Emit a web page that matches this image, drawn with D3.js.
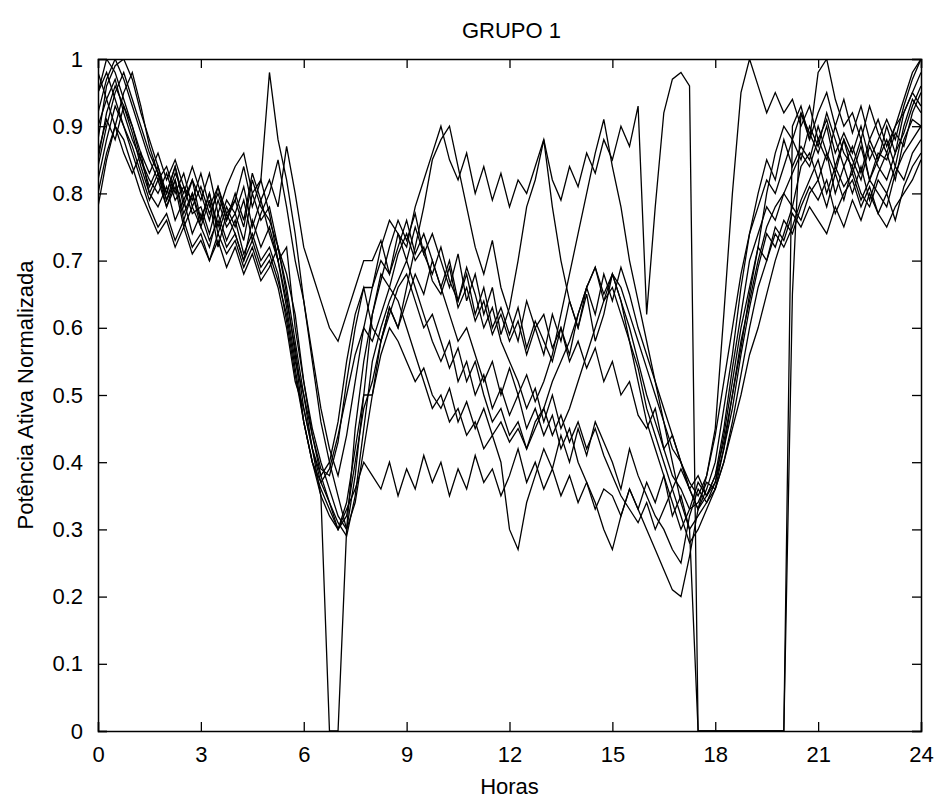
<!DOCTYPE html>
<html>
<head>
<meta charset="utf-8">
<script src="https://cdn.jsdelivr.net/npm/d3@7"></script>
<style>
  html, body { margin: 0; padding: 0; background: #ffffff; }
  svg { display: block; }
  text { font-family: "Liberation Sans", Arial, sans-serif; fill: #000; }
</style>
</head>
<body>
<svg id="chart" width="940" height="800"></svg>
<script>
// ---- DATA (values in hundredths of normalized power, every 15 minutes from 0h to 24h) ----
const title = "GRUPO 1";
const xLabel = "Horas";
const yLabel = "Potência Ativa Normalizada";
const xTickValues = [0, 3, 6, 9, 12, 15, 18, 21, 24];
const xTickLabels = ["0", "3", "6", "9", "12", "15", "18", "21", "24"];
const yTickValues = [0, 10, 20, 30, 40, 50, 60, 70, 80, 90, 100];
const yTickLabels = ["0", "0.1", "0.2", "0.3", "0.4", "0.5", "0.6", "0.7", "0.8", "0.9", "1"];
const hours = [
  0,0.25,0.5,0.75, 1,1.25,1.5,1.75, 2,2.25,2.5,2.75, 3,3.25,3.5,3.75,
  4,4.25,4.5,4.75, 5,5.25,5.5,5.75, 6,6.25,6.5,6.75, 7,7.25,7.5,7.75,
  8,8.25,8.5,8.75, 9,9.25,9.5,9.75, 10,10.25,10.5,10.75, 11,11.25,11.5,11.75,
  12,12.25,12.5,12.75, 13,13.25,13.5,13.75, 14,14.25,14.5,14.75, 15,15.25,15.5,15.75,
  16,16.25,16.5,16.75, 17,17.25,17.5,17.75, 18,18.25,18.5,18.75, 19,19.25,19.5,19.75,
  20,20.25,20.5,20.75, 21,21.25,21.5,21.75, 22,22.25,22.5,22.75, 23,23.25,23.5,23.75, 24
];

const curve1 = [95,100,98,94, 90,85,82,80, 83,79,81,77, 78,74,79,75, 77,73,80,76, 78,72,66,58,
  50,42,35,0, 0,30,45,55, 62,68,66,71, 74,70,72,67, 65,69,63,66, 61,64,59,62,
  58,61,56,60, 62,57,60,55, 58,54,57,52, 55,50,52,47, 45,48,42,44, 40,36,38,35,
  37,42,50,58, 64,70,75,78, 80,83,86,84, 88,85,90,86, 84,88,82,86, 85,89,87,92, 95];
const curve2 = [88,96,99,100, 97,92,88,84, 80,84,79,82, 76,80,74,78, 75,79,73,77, 80,85,78,70,
  64,56,48,42, 38,44,52,60, 66,70,68,74, 72,78,82,86, 90,85,82,86, 80,84,79,83,
  78,82,80,84, 88,82,79,84, 81,86,83,88, 85,90,87,93, 62,78,92,97, 98,96,0,0,
  0,0,0,0, 0,0,0,0, 0,90,93,88, 92,95,90,94, 89,93,88,91, 87,90,94,98, 100];
const curve3 = [82,88,93,90, 86,82,78,75, 77,73,76,72, 74,70,73,69, 72,68,71,67, 69,72,65,56,
  46,40,36,33, 30,33,36,40, 38,36,40,35, 39,36,41,37, 40,35,39,36, 41,37,39,35,
  38,42,37,40, 36,39,35,38, 34,37,33,36, 35,32,36,33, 37,34,38,32, 35,30,0,0,
  0,0,0,0, 0,0,0,0, 0,65,92,88, 98,100,94,90, 92,88,93,89, 86,90,92,95, 93];
const curve4 = [85,92,96,93, 89,84,80,83, 78,82,76,80, 75,79,72,77, 74,70,76,72, 75,70,64,57,
  48,42,38,40, 46,55,62,66, 60,58,63,60, 66,72,78,85, 88,90,84,78, 72,68,73,66,
  62,58,64,60, 56,62,58,64, 60,66,62,68, 64,69,65,60, 56,52,48,44, 40,36,33,36,
  40,48,56,66, 74,80,85,82, 88,84,87,85, 90,86,83,88, 85,82,87,84, 82,86,89,93, 96];
const curve5 = [80,86,90,95, 98,93,87,83, 79,83,80,84, 80,76,81,77, 79,84,78,82, 77,70,72,60,
  52,45,40,36, 32,30,38,50, 62,67,72,76, 73,77,71,74, 70,66,71,64, 68,62,66,59,
  63,70,78,82, 88,78,70,64, 60,65,58,62, 68,64,58,52, 46,42,38,34, 30,33,37,35,
  38,45,54,62, 70,74,78,76, 80,78,84,86, 82,86,80,84, 80,84,79,83, 86,82,88,91, 90];
const curve6 = [98,94,90,86, 83,86,80,78, 81,76,79,74, 77,73,76,72, 74,70,73,69, 71,67,62,54,
  46,40,37,39, 44,50,56,60, 58,62,66,64, 60,56,52,48, 50,46,48,44, 46,42,44,40,
  30,27,34,38, 42,39,44,40, 45,41,46,43, 40,36,42,38, 35,32,30,27, 25,32,36,34,
  37,44,52,60, 66,72,70,75, 73,77,75,78, 76,74,78,75, 79,76,80,77, 75,78,80,82, 85];
const curve7 = [90,94,97,92, 88,85,81,84, 79,82,77,80, 76,80,75,79, 77,81,75,79, 74,70,63,55,
  50,44,38,34, 31,29,35,45, 55,60,64,67, 70,66,62,58, 55,58,52,55, 50,53,48,51,
  47,50,45,48, 44,47,42,45, 40,37,34,30, 27,32,36,33, 30,27,24,21, 20,26,33,38,
  44,52,60,68, 74,78,82,80, 84,88,85,90, 87,92,88,84, 87,83,88,85, 90,86,92,95, 98];
const curve8 = [92,97,100,97, 93,89,85,82, 84,80,83,78, 81,77,80,76, 79,75,82,78, 76,72,68,62,
  52,44,39,38, 43,52,60,66, 66,72,76,74, 70,75,71,68, 72,67,64,69, 65,60,63,58,
  55,52,48,51, 46,50,45,48, 52,56,60,64, 68,66,62,58, 54,50,46,42, 40,37,35,38,
  45,62,80,95, 100,96,92,95, 92,94,90,93, 88,91,86,89, 86,90,85,88, 91,88,93,97, 100];
const curve9 = [84,90,95,98, 94,90,86,83, 80,84,78,82, 79,83,77,81, 84,86,80,82, 98,88,82,74,
  64,55,46,40, 35,30,34,42, 50,58,62,66, 68,64,60,62, 58,54,57,52, 55,50,46,48,
  44,46,42,45, 48,44,47,43, 46,42,45,41, 38,35,33,31, 34,30,33,36, 39,36,33,35,
  38,43,50,57, 65,72,80,86, 90,88,92,89, 86,90,84,88, 83,87,82,85, 88,84,90,94, 92];
const curve10 = [86,91,88,93, 90,86,83,86, 82,85,81,79, 83,78,81,76, 80,76,83,79, 82,78,87,80,
  72,68,64,60, 58,62,66,70, 70,73,68,72, 76,71,74,70, 66,70,64,68, 62,66,60,63,
  59,63,57,61, 58,55,60,56, 62,66,69,65, 68,64,60,55, 50,46,42,38, 36,33,34,37,
  36,40,46,53, 60,66,70,74, 72,75,79,82, 85,80,84,81, 83,79,82,80, 78,83,86,88, 90];
const curve11 = [78,85,90,88, 84,80,77,74, 76,72,75,71, 73,70,74,71, 73,69,72,68, 70,66,60,52,
  48,42,37,34, 30,32,40,48, 52,58,63,60, 64,68,65,70, 66,62,58,60, 56,52,55,50,
  54,50,53,49, 52,56,62,68, 74,80,86,91, 84,78,70,64, 58,52,46,40, 34,30,32,34,
  36,40,45,50, 56,60,65,70, 74,78,76,80, 82,78,83,79, 84,80,78,82, 80,84,82,86, 88];
const curve12 = [95,98,94,90, 87,83,79,82, 78,81,75,78, 75,72,77,73, 76,71,74,70, 72,68,61,53,
  46,40,35,32, 30,34,42,50, 50,56,60,58, 55,52,54,50, 48,51,46,49, 45,48,44,46,
  43,45,42,46, 48,52,55,58, 62,66,69,64, 66,62,58,54, 48,44,40,36, 32,28,30,33,
  36,42,48,56, 63,69,74,72, 76,74,78,81, 79,82,77,80, 82,78,81,77, 80,76,81,84, 86];

const curves = [curve1, curve2, curve3, curve4, curve5, curve6,
                curve7, curve8, curve9, curve10, curve11, curve12];

// ---- LAYOUT ----
const svg = d3.select("#chart");
const plot = { left: 98, right: 921, top: 59, bottom: 731 };

const x = d3.scaleLinear().domain([0, 24]).range([plot.left, plot.right]);
const y = d3.scaleLinear().domain([0, 100]).range([plot.bottom, plot.top]);

svg.append("rect").attr("width", 940).attr("height", 800).attr("fill", "#fff");

svg.append("clipPath").attr("id", "clip")
  .append("rect")
  .attr("x", plot.left).attr("y", plot.top)
  .attr("width", plot.right - plot.left).attr("height", plot.bottom - plot.top);

const line = d3.line()
  .x((d, i) => x(hours[i]))
  .y(d => y(d));

svg.append("g").attr("clip-path", "url(#clip)")
  .selectAll("path")
  .data(curves)
  .join("path")
  .attr("d", line)
  .attr("fill", "none")
  .attr("stroke", "#000")
  .attr("stroke-width", 1.3)
  .attr("stroke-linejoin", "miter");

// axes (MATLAB style: box with inward ticks on all sides)
const tickLen = 9;
const fontSize = 22;

const xAxisBottom = d3.axisBottom(x).tickValues(xTickValues)
  .tickSize(-tickLen).tickPadding(tickLen + 6)
  .tickFormat((d, i) => xTickLabels[i]);
const xAxisTop = d3.axisTop(x).tickValues(xTickValues)
  .tickSize(-tickLen).tickFormat("");
const yAxisLeft = d3.axisLeft(y).tickValues(yTickValues)
  .tickSize(-tickLen).tickPadding(tickLen + 6)
  .tickFormat((d, i) => yTickLabels[i]);
const yAxisRight = d3.axisRight(y).tickValues(yTickValues)
  .tickSize(-tickLen).tickFormat("");

function styleAxis(g) {
  g.select(".domain").attr("stroke", "#000").attr("stroke-width", 1.5);
  g.selectAll(".tick line").attr("stroke", "#000").attr("stroke-width", 1.3);
  g.selectAll(".tick text")
    .attr("font-family", "'Liberation Sans', Arial, sans-serif")
    .attr("font-size", fontSize).attr("fill", "#000");
}

svg.append("g").attr("transform", `translate(0,${plot.bottom})`).call(xAxisBottom).call(styleAxis);
svg.append("g").attr("transform", `translate(0,${plot.top})`).call(xAxisTop).call(styleAxis);
svg.append("g").attr("transform", `translate(${plot.left},0)`).call(yAxisLeft).call(styleAxis);
svg.append("g").attr("transform", `translate(${plot.right},0)`).call(yAxisRight).call(styleAxis);

// titles
svg.append("text")
  .attr("x", (plot.left + plot.right) / 2 + 2).attr("y", 38)
  .attr("text-anchor", "middle")
  .attr("font-size", 22)
  .text(title);

svg.append("text")
  .attr("x", (plot.left + plot.right) / 2).attr("y", 794)
  .attr("text-anchor", "middle")
  .attr("font-size", 22)
  .text(xLabel);

svg.append("text")
  .attr("transform", `translate(33,${(plot.top + plot.bottom) / 2}) rotate(-90)`)
  .attr("text-anchor", "middle")
  .attr("font-size", 22)
  .text(yLabel);
</script>
</body>
</html>
